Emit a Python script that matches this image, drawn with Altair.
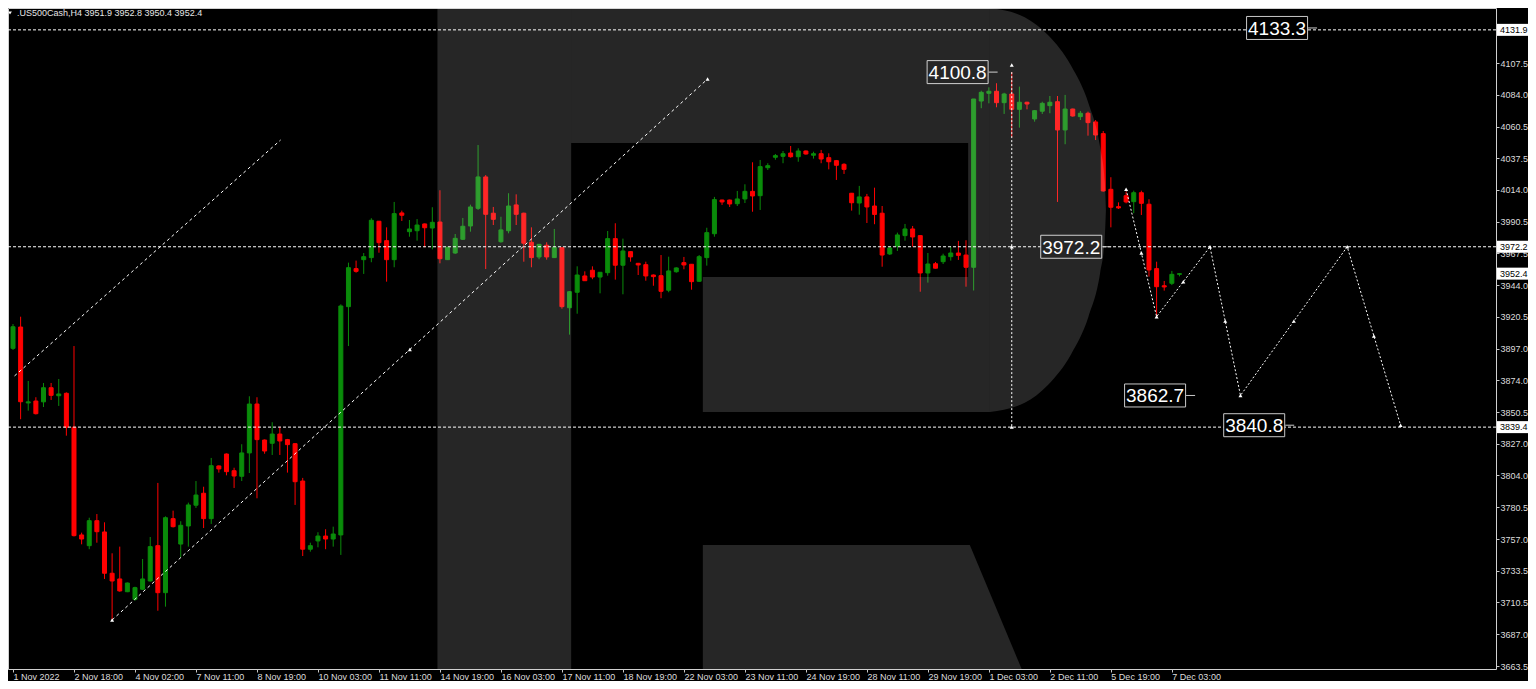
import altair as alt
import pandas as pd

# ---------------- data ----------------
title_text = ".US500Cash,H4  3951.9 3952.8 3950.4 3952.4"

opens = [3897.4, 3913.1, 3857.2, 3858.6, 3858.0, 3868.4, 3862.5, 3864.3, 3839.3, 3760.0,
         3752.1, 3770.5, 3762.2, 3731.8, 3727.6, 3718.2, 3712.6, 3720.0, 3726.1, 3752.1,
         3717.5, 3772.0, 3753.3, 3766.6, 3781.9, 3790.7, 3772.0, 3810.8, 3819.6, 3807.3,
         3803.2, 3820.4, 3856.4, 3829.9, 3827.5, 3834.3, 3830.2, 3827.2, 3799.7, 3749.5,
         3755.6, 3759.2, 3757.0, 3760.0, 3928.1, 3956.1, 3962.7, 3964.2, 3991.0, 3976.7,
         3962.7, 3997.1, 3983.3, 3984.0, 3989.0, 3986.0, 3990.4, 3962.7, 3967.6, 3977.7,
         3987.5, 4000.5, 4023.6, 3996.9, 3975.9, 3984.0, 4003.0, 3996.9, 3975.5, 3964.7,
         3973.3, 3964.2, 3971.5, 3927.3, 3938.7, 3950.7, 3954.9, 3949.9, 3953.1, 3978.2,
         3958.6, 3968.6, 3960.0, 3959.0, 3951.4, 3950.9, 3940.2, 3953.8, 3960.5, 3959.3,
         3946.8, 3964.2, 3981.8, 4006.6, 4006.6, 4003.9, 4007.4, 4013.0, 4009.8, 4030.4,
         4038.1, 4038.8, 4041.2, 4038.5, 4042.7, 4039.6, 4040.7, 4037.8, 4035.6, 4032.9,
         4011.6, 4004.4, 4008.9, 4002.2, 3996.9, 3966.9, 3972.6, 3980.4, 3985.3, 3980.4,
         3952.9, 3959.7, 3961.2, 3964.9, 3967.6, 3966.1, 3957.1, 4079.5, 4085.2, 4086.7,
         4078.3, 4084.7, 4073.4, 4078.6, 4066.3, 4072.0, 4076.1, 4079.0, 4058.2, 4073.6,
         4068.0, 4070.5, 4064.1, 4055.5, 4014.5, 4001.7, 4009.8, 4005.4, 4012.0, 4003.5,
         3956.1, 3943.5, 3945.3, 3951.9]
highs = [3915.3, 3920.7, 3873.4, 3861.4, 3871.9, 3871.9, 3874.8, 3865.0, 3899.1, 3761.7,
         3772.7, 3775.4, 3769.3, 3746.5, 3751.4, 3725.0, 3721.9, 3742.3, 3758.5, 3798.3,
         3773.7, 3777.9, 3770.1, 3783.8, 3799.7, 3795.5, 3816.7, 3811.2, 3820.0, 3809.5,
         3826.8, 3862.1, 3861.4, 3830.3, 3843.0, 3839.7, 3830.7, 3827.4, 3802.0, 3754.3,
         3762.0, 3764.2, 3766.1, 3929.8, 3960.5, 3962.0, 3967.6, 3993.2, 3991.2, 3986.5,
         4005.2, 3998.8, 3991.9, 3992.6, 3989.3, 4001.3, 4013.8, 3972.3, 3981.6, 3993.4,
         4003.2, 4047.1, 4025.0, 4001.5, 3994.3, 4011.6, 4010.8, 3997.3, 3986.5, 3974.2,
         3975.5, 3985.3, 3971.8, 3939.6, 3957.8, 3954.1, 3957.8, 3953.6, 3983.8, 3989.5,
         3978.2, 3968.7, 3960.3, 3961.2, 3951.8, 3966.1, 3964.9, 3957.1, 3964.7, 3959.5,
         3966.1, 3986.2, 4008.9, 4006.9, 4006.9, 4013.3, 4018.2, 4034.4, 4036.1, 4033.7,
         4040.5, 4042.7, 4046.4, 4044.7, 4043.1, 4042.2, 4043.5, 4041.0, 4036.1, 4033.7,
         4011.8, 4017.0, 4011.1, 4015.7, 4002.2, 3972.3, 3982.6, 3989.0, 3987.5, 3980.5,
         3967.6, 3961.0, 3967.1, 3972.3, 3976.5, 3977.0, 4081.0, 4087.1, 4089.6, 4092.6,
         4085.6, 4100.8, 4090.1, 4079.0, 4072.9, 4079.0, 4083.2, 4083.2, 4084.0, 4073.9,
         4072.2, 4071.7, 4065.5, 4057.4, 4023.4, 4004.9, 4012.8, 4013.5, 4013.5, 4007.2,
         3961.2, 3947.0, 3954.4, 3952.8]
lows = [3896.2, 3845.2, 3851.5, 3848.7, 3854.2, 3859.4, 3855.0, 3833.1, 3758.9, 3753.1,
        3749.5, 3754.3, 3727.6, 3697.4, 3718.2, 3717.9, 3711.6, 3719.5, 3725.7, 3704.2,
        3707.2, 3765.5, 3743.6, 3751.4, 3779.9, 3765.1, 3768.1, 3805.9, 3803.9, 3794.6,
        3799.7, 3805.6, 3787.0, 3819.8, 3818.9, 3818.9, 3805.9, 3782.1, 3744.5, 3747.7,
        3750.9, 3749.5, 3751.4, 3745.3, 3899.1, 3953.1, 3952.2, 3960.8, 3967.8, 3946.5,
        3957.1, 3991.2, 3979.6, 3976.7, 3971.8, 3970.3, 3960.0, 3962.5, 3966.9, 3977.2,
        3983.3, 3999.3, 3955.8, 3988.2, 3975.2, 3982.1, 3988.2, 3961.2, 3957.1, 3963.0,
        3962.7, 3963.9, 3926.6, 3907.5, 3922.9, 3947.0, 3948.3, 3937.9, 3950.9, 3948.0,
        3937.2, 3961.2, 3951.4, 3947.2, 3943.5, 3934.3, 3938.7, 3953.1, 3955.6, 3940.6,
        3946.3, 3958.3, 3979.6, 4003.0, 4001.5, 4002.2, 4004.4, 3998.0, 3999.3, 4028.7,
        4036.3, 4033.7, 4037.8, 4034.8, 4040.0, 4037.1, 4033.7, 4029.2, 4021.4, 4025.8,
        3998.8, 3995.8, 3989.7, 3988.8, 3957.5, 3966.1, 3969.1, 3976.7, 3972.3, 3939.1,
        3945.8, 3956.2, 3959.5, 3962.0, 3962.5, 3942.8, 3940.0, 4074.2, 4077.8, 4074.9,
        4070.0, 4052.8, 4059.9, 4073.4, 4064.3, 4070.0, 4070.5, 4005.2, 4047.7, 4068.0,
        4065.5, 4054.0, 4050.8, 4012.8, 3986.5, 4000.0, 4004.2, 3996.9, 3995.6, 3950.2,
        3920.7, 3939.9, 3944.0, 3950.4]
closes = [3913.3, 3858.1, 3858.0, 3849.3, 3868.4, 3862.8, 3863.8, 3839.3, 3759.5, 3757.0,
          3770.5, 3762.4, 3731.8, 3726.1, 3718.8, 3724.6, 3721.2, 3727.6, 3751.4, 3717.5,
          3772.7, 3766.1, 3767.1, 3782.1, 3789.4, 3772.0, 3811.0, 3808.6, 3806.6, 3803.4,
          3820.4, 3856.4, 3830.2, 3821.8, 3834.3, 3829.2, 3826.5, 3799.2, 3749.5, 3752.1,
          3759.2, 3757.0, 3760.7, 3928.6, 3956.8, 3954.1, 3964.9, 3991.7, 3975.2, 3962.7,
          3996.6, 3995.4, 3985.3, 3988.2, 3986.2, 3990.2, 3963.4, 3971.8, 3978.4, 3987.3,
          4001.5, 4023.6, 3996.1, 3992.4, 3984.6, 4002.2, 3996.1, 3974.8, 3964.2, 3974.0,
          3964.7, 3971.8, 3928.1, 3939.1, 3951.4, 3947.2, 3949.9, 3953.4, 3978.2, 3958.6,
          3969.1, 3964.7, 3958.8, 3950.7, 3950.2, 3939.4, 3954.4, 3956.6, 3958.8, 3946.5,
          3964.9, 3982.6, 4006.9, 4005.2, 4003.7, 4007.4, 4013.0, 4009.6, 4031.2, 4031.9,
          4039.3, 4040.7, 4038.5, 4042.7, 4040.5, 4040.7, 4036.8, 4034.8, 4032.2, 4029.2,
          4004.6, 4008.9, 4001.5, 3996.0, 3966.1, 3971.3, 3980.9, 3985.3, 3979.4, 3952.9,
          3959.5, 3956.4, 3965.4, 3967.6, 3965.9, 3957.1, 4081.0, 4085.9, 4086.7, 4078.3,
          4084.7, 4073.4, 4078.6, 4077.3, 4072.4, 4077.8, 4078.6, 4058.2, 4073.6, 4068.5,
          4070.5, 4063.6, 4054.5, 4013.3, 4001.3, 4000.8, 4005.2, 4012.0, 4004.2, 3955.1,
          3942.8, 3942.6, 3951.9, 3952.4]

x_tick_labels = ["1 Nov 2022", "2 Nov 18:00", "4 Nov 02:00", "7 Nov 11:00", "8 Nov 19:00",
                 "10 Nov 03:00", "11 Nov 11:00", "14 Nov 19:00", "16 Nov 03:00", "17 Nov 11:00",
                 "18 Nov 19:00", "22 Nov 03:00", "23 Nov 11:00", "24 Nov 19:00", "28 Nov 11:00",
                 "29 Nov 19:00", "1 Dec 03:00", "2 Dec 11:00", "5 Dec 19:00", "7 Dec 03:00"]
bars_per_label = 8
y_tick_values = [4107.5, 4084.0, 4060.5, 4037.5, 4014.0, 3990.5, 3967.5, 3944.0, 3920.5, 3897.0,
                 3874.0, 3850.5, 3827.0, 3804.0, 3780.5, 3757.0, 3733.5, 3710.5, 3687.0, 3663.5]

level_prices = [4131.9, 3972.2, 3839.4]
tag_prices = [4131.9, 3972.2, 3952.4, 3839.4]

note_values = [4133.3, 4100.8, 3972.2, 3862.7, 3840.8]
note_bars = [165.8, 123.9, 138.8, 149.8, 162.8]

zig_bars = [146, 150, 157, 161, 175, 182]
zig_prices = [4014.5, 3920.7, 3972.2, 3862.7, 3972.2, 3840.8]

upper_ch_bars = [0.2, 35.1]
upper_ch_prices = [3877.1, 4050.8]
lower_ch_bars = [13, 91.1]
lower_ch_prices = [3697.4, 4095.7]

vline_bar = 131
vline_prices = [4100.8, 3839.4]
vline_mark_prices = [4106.0, 3972.2, 3839.4]

# watermark "R" (bar index / price units)
logo_rects_x1 = [55.67, 73.21, 125.28, 90.48]
logo_rects_x2 = [73.21, 128.14, 128.14, 128.14]
logo_rects_y1 = [3661.3, 4048.6, 3949.9, 3850.6]
logo_rects_y2 = [4148.0, 4148.0, 4048.6, 3949.9]
bowl_x = [128.14, 132.70, 135.75, 138.79, 141.07, 142.59, 143.20, 143.35]
bowl_top = [4148.0, 4141.2, 4128.1, 4105.5, 4077.7, 4045.7, 4020.3, 3999.3]
bowl_bot = [3850.6, 3857.4, 3870.5, 3893.1, 3920.9, 3952.9, 3978.3, 3999.3]
leg_x = [90.48, 125.5, 132.3]
leg_top = [3752.6, 3752.6, 3661.3]
leg_bot = [3661.3, 3661.3, 3661.3]

# ---------------- tables ----------------
candles = pd.DataFrame({"i": list(range(len(opens))), "open": opens, "high": highs,
                        "low": lows, "close": closes})
candles["dir"] = ["up" if c >= o else "down" for o, c in zip(opens, closes)]

levels = pd.DataFrame({"p": level_prices})
tags = pd.DataFrame({"p": tag_prices})
notes = pd.DataFrame({"i": note_bars, "v": note_values})
zig = pd.DataFrame({"i": zig_bars, "p": zig_prices})
channels = pd.DataFrame({
    "i": upper_ch_bars + lower_ch_bars,
    "p": upper_ch_prices + lower_ch_prices,
    "line": ["up", "up", "low", "low"]})
vline = pd.DataFrame({"i": [vline_bar], "p1": [vline_prices[0]], "p2": [vline_prices[1]]})

mk_i, mk_p = [], []
for k in range(len(zig_bars)):
    mk_i.append(zig_bars[k]); mk_p.append(zig_prices[k])
    if k + 1 < len(zig_bars):
        mk_i.append((zig_bars[k] + zig_bars[k + 1]) / 2)
        mk_p.append((zig_prices[k] + zig_prices[k + 1]) / 2)
mk_i += [lower_ch_bars[0], sum(lower_ch_bars) / 2, lower_ch_bars[1]]
mk_p += [lower_ch_prices[0], sum(lower_ch_prices) / 2, lower_ch_prices[1]]
for p in vline_mark_prices:
    mk_i.append(vline_bar); mk_p.append(p)
markers = pd.DataFrame({"i": mk_i, "p": mk_p})

logo_r = pd.DataFrame({"x1": logo_rects_x1, "x2": logo_rects_x2,
                       "y1": logo_rects_y1, "y2": logo_rects_y2})
bowl = pd.DataFrame({"x": bowl_x, "t": bowl_top, "b": bowl_bot})
leg = pd.DataFrame({"x": leg_x, "t": leg_top, "b": leg_bot})
title_df = pd.DataFrame({"t": [title_text]})

# ---------------- scales / axes ----------------
W, H = 1488, 661
PAD_R, PAD_B = 32, 12
FONT = "Liberation Sans"
xs = alt.Scale(domain=[0, 193.86], nice=False, zero=False)
ys = alt.Scale(domain=[3661.3, 4148.0], nice=False, zero=False)
lab_arr = "[" + ",".join("'" + s + "'" for s in x_tick_labels) + "]"
x_axis = alt.Axis(values=[k * bars_per_label for k in range(len(x_tick_labels))],
                  labelExpr=lab_arr + "[round(datum.value/" + str(bars_per_label) + ")]",
                  labelAlign="left", labelBaseline="top", labelPadding=0, tickSize=3,
                  labelOverlap=False, labelFlush=False, grid=False, domain=False,
                  labelFont=FONT, labelFontSize=9, labelColor="#dcdcdc", tickColor="#c8c8c8")
y_axis = alt.Axis(orient="right", values=y_tick_values, format=".1f", tickSize=3,
                  labelPadding=1, labelOverlap=False, labelFlush=False, grid=False, domain=False,
                  labelFont=FONT, labelFontSize=9, labelColor="#dcdcdc", tickColor="#c8c8c8")


def X(f):
    return alt.X(f, type="quantitative", scale=xs, axis=x_axis, title=None)


def Y(f):
    return alt.Y(f, type="quantitative", scale=ys, axis=y_axis, title=None)


cscale = alt.Scale(domain=["up", "down"], range=["#0a8c0a", "#ff0000"])

wicks = alt.Chart(candles).mark_rule(strokeWidth=1, clip=True).encode(
    x=X("i"), y=Y("low"), y2=alt.Y2("high"),
    color=alt.Color("dir:N", scale=cscale, legend=None))
bodies = alt.Chart(candles).mark_bar(width=4, strokeWidth=1, clip=True).encode(
    x=X("i"), y=Y("open"), y2=alt.Y2("close"),
    color=alt.Color("dir:N", scale=cscale, legend=None),
    stroke=alt.Stroke("dir:N", scale=cscale, legend=None))

level_lines = alt.Chart(levels).mark_rule(color="white", strokeDash=[3, 2], strokeWidth=1).encode(
    y=Y("p"))
chan_lines = alt.Chart(channels).mark_line(color="white", strokeDash=[3, 3], strokeWidth=1,
                                           clip=True).encode(
    x=X("i"), y=Y("p"), detail="line:N")
zig_line = alt.Chart(zig).mark_line(color="white", strokeDash=[2, 2], strokeWidth=1).encode(
    x=X("i"), y=Y("p"))
v_line = alt.Chart(vline).mark_rule(color="white", strokeDash=[2, 2], strokeWidth=1).encode(
    x=X("i"), y=Y("p1"), y2=alt.Y2("p2"))
mark_pts = alt.Chart(markers).mark_point(shape="triangle-up", filled=True, size=16,
                                         color="white", opacity=1).encode(x=X("i"), y=Y("p"))

note_box = alt.Chart(notes).mark_rect(fill="black", stroke="#c8c8c8", strokeWidth=1,
                                      xOffset=-30.5, x2Offset=30.5,
                                      yOffset=-11.5, y2Offset=11.5).encode(
    x=X("i"), x2=alt.X2("i"), y=Y("v"), y2=alt.Y2("v"))
note_conn = alt.Chart(notes).mark_rule(color="#c8c8c8", strokeWidth=1,
                                       xOffset=31, x2Offset=40).encode(
    x=X("i"), x2=alt.X2("i"), y=Y("v"))
note_txt = alt.Chart(notes).mark_text(font=FONT, fontSize=19, color="white",
                                      align="center", baseline="middle", dy=1).encode(
    x=X("i"), y=Y("v"), text=alt.Text("v:Q", format=".1f"))

logo_rect = alt.Chart(logo_r).mark_rect(color="white", opacity=0.15, clip=True).encode(
    x=X("x1"), x2=alt.X2("x2"), y=Y("y1"), y2=alt.Y2("y2"))
logo_bowl = alt.Chart(bowl).mark_area(color="white", opacity=0.15, interpolate="monotone",
                                      clip=True).encode(
    x=X("x"), y=Y("t"), y2=alt.Y2("b"))
logo_leg = alt.Chart(leg).mark_area(color="white", opacity=0.15, clip=True).encode(
    x=X("x"), y=Y("t"), y2=alt.Y2("b"))

tag_box = alt.Chart(tags).mark_rect(fill="white", yOffset=-6, y2Offset=6).encode(
    x=alt.value(W + 1), x2=alt.value(W + PAD_R), y=Y("p"), y2=alt.Y2("p"))
tag_txt = alt.Chart(tags).mark_text(font=FONT, fontSize=9, color="black", align="left",
                                    baseline="middle").encode(
    x=alt.value(W + 4), y=Y("p"), text=alt.Text("p:Q", format=".1f"))

title_tri = alt.Chart(title_df).mark_point(shape="triangle-down", filled=True, size=14,
                                           color="white", opacity=1).encode(
    x=alt.value(2), y=alt.value(5))
title_txt = alt.Chart(title_df).mark_text(font=FONT, fontSize=9, color="#e6e6e6",
                                          align="left", baseline="middle").encode(
    x=alt.value(9), y=alt.value(5), text="t:N")

chart = alt.layer(
    wicks, bodies, level_lines, chan_lines, zig_line, v_line, mark_pts,
    note_box, note_conn, note_txt,
    logo_rect, logo_bowl, logo_leg,
    tag_box, tag_txt, title_tri, title_txt
).properties(
    width=W, height=H,
    padding={"left": 0, "top": 0, "right": PAD_R, "bottom": PAD_B},
    autosize=alt.AutoSizeParams(type="none"),
    background="black"
).configure_view(stroke="#d0d0d0", strokeWidth=1, fill="black")

chart.save("out.html", embed_options={"renderer": "svg", "actions": False})
